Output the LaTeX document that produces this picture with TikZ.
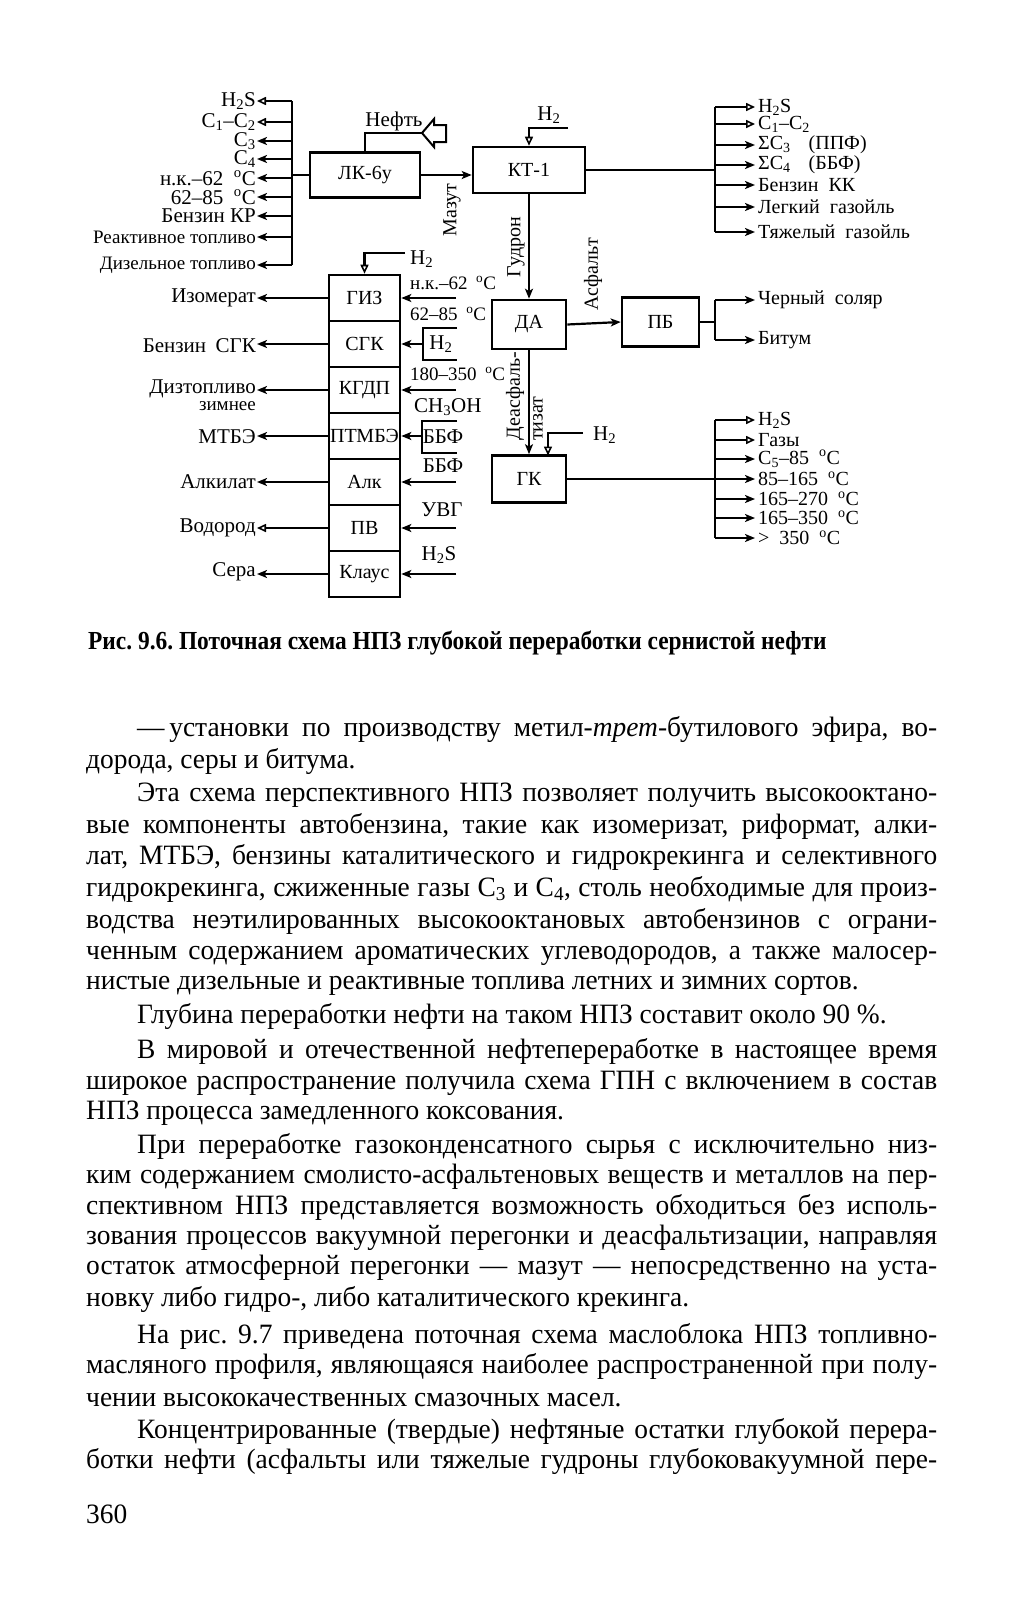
\documentclass[tikz,border=0pt]{standalone}
\usepackage{fontspec}
\setmainfont{Liberation Serif}
\newfontfamily\bodyfam{Liberation Serif}[FakeStretch=0.98]
\newfontfamily\capfam{Liberation Serif}[FakeStretch=0.9]
\usetikzlibrary{arrows.meta}
\frenchspacing
\newcommand\mydfont{\fontsize{21}{23}\selectfont}
\newcommand\myrfont{\fontsize{20}{22}\selectfont}
\newcommand\mybxfont{\fontsize{20}{22}\selectfont}
\newcommand\mydsfont{\fontsize{19}{21}\selectfont}
\newcommand\mybfont{\bodyfam\fontsize{28}{31}\selectfont}
\newcommand\mycfont{\capfam\fontsize{26}{30}\selectfont\bfseries}
\newcommand\dg{\textsuperscript{o}C}
\newcommand\bodyln[4]{\node[txt,anchor=mid west] (#1) at (#2) {\makebox[#3][s]{#4}};}
\newcommand\natln[3]{\node[txt,anchor=mid west] (#1) at (#2) {#3};}
\begin{document}
\begin{tikzpicture}[x=1pt,y=-1pt,
 ln/.style={line width=2.2pt},
 fa/.style={line width=2.2pt,-{Stealth[length=10pt,width=8pt,inset=2.5pt]}},
 oa/.style={line width=2.2pt,-{Triangle[open,length=9pt,width=8pt,line width=1.6pt]}},
 box/.style={draw,line width=2.6pt,inner sep=0pt,font=\mybxfont},
 lb/.style={inner sep=1pt,font=\mydfont},
 lbr/.style={inner xsep=3pt,inner ysep=0.5pt,font=\myrfont},
 lbt/.style={inner sep=1pt,font=\myrfont},
 lbs/.style={inner sep=1pt,font=\mydsfont},
 txt/.style={inner sep=0pt,font=\mybfont},
]
\fill[white] (0,0) rectangle (1017,1601);
\useasboundingbox (0,0) rectangle (1017,1601);

% ---------- left bus of LK-6u
\coordinate (lbus) at (292,0);
\node[box,minimum width=110pt,minimum height=45pt] (lk) at (365,175) {ЛК-6у};
\draw[ln] (292,101) -- (292,265);
\draw[ln] (lk.west) -- (lk.west -| lbus);
\node[lb,anchor=east] (p1) at (257,101) {H\textsubscript{2}S};
\node[lb,anchor=east] (p2) at (257,122) {C\textsubscript{1}–C\textsubscript{2}};
\node[lb,anchor=east] (p3) at (257,141) {C\textsubscript{3}};
\node[lb,anchor=east] (p4) at (257,159) {C\textsubscript{4}};
\node[lb,anchor=east] (p5) at (257,178) {н.к.–62\hspace{0.5em}\dg};
\node[lb,anchor=east] (p6) at (257,197) {62–85\hspace{0.5em}\dg};
\node[lb,anchor=east] (p7) at (257,216) {Бензин КР};
\node[lbs,anchor=east] (p8) at (257,237) {Реактивное топливо};
\node[lbs,anchor=east] (p9) at (257,265) {Дизельное топливо};
\draw[oa] (p1.east -| lbus) -- (p1.east);
\draw[oa] (p2.east -| lbus) -- (p2.east);
\foreach \p in {p3,p4,p5,p6,p7,p8,p9}
  \draw[fa] (\p.east -| lbus) -- (\p.east);

% ---------- oil feed
\coordinate (nf) at (422,133);
\draw[ln] (lk.north) |- (nf);
\draw[line width=2pt] (422,133) -- (434,119) -- (434,125) -- (446,125) -- (446,142) -- (434,142) -- (434,147) -- cycle;
\node[lb] (neft) at (394,121) {Нефть};

% ---------- KT-1
\node[box,minimum width=112pt,minimum height=46pt] (kt) at (529,170) {КТ-1};
\draw[fa] (lk.east) -- (lk.east -| kt.west);
\node[lbt,rotate=90] (mazut) at (452,210) {Мазут};
\coordinate (h2b) at (568,128);
\draw[oa] (h2b) -- (h2b -| kt.north) -- (kt.north);
\node[lb] (h2bl) at (549,115) {H\textsubscript{2}};
\coordinate (rbus) at (715,0);
\draw[ln] (kt.east) -- (kt.east -| rbus);
\draw[ln] (715,107) -- (715,232);
\node[lbr,anchor=west] (q1) at (755,107) {H\textsubscript{2}S};
\node[lbr,anchor=west] (q2) at (755,124) {C\textsubscript{1}–C\textsubscript{2}};
\node[lbr,anchor=west] (q3) at (755,145) {ΣC\textsubscript{3}\hspace{0.9em}(ППФ)};
\node[lbr,anchor=west] (q4) at (755,165) {ΣC\textsubscript{4}\hspace{0.9em}(ББФ)};
\node[lbr,anchor=west] (q5) at (755,185) {Бензин\hspace{0.5em}КК};
\node[lbr,anchor=west] (q6) at (755,207) {Легкий\hspace{0.5em}газойль};
\node[lbr,anchor=west] (q7) at (755,232) {Тяжелый\hspace{0.5em}газойль};
\draw[oa] (q1.west -| rbus) -- (q1.west);
\draw[oa] (q2.west -| rbus) -- (q2.west);
\foreach \q in {q3,q4,q5,q6,q7}
  \draw[fa] (\q.west -| rbus) -- (\q.west);

% ---------- DA, PB
\node[box,minimum width=74pt,minimum height=49pt] (da) at (529,324.5) {ДА};
\draw[fa] (kt.south) -- (da.north);
\node[lbt,rotate=90] (gudron) at (516,247) {Гудрон};
\node[box,minimum width=77pt,minimum height=49pt] (pb) at (660.5,322) {ПБ};
\draw[fa] (da.east) -- (pb.west);
\node[lbt,rotate=90] (asf) at (593,274) {Асфальт};
\draw[ln] (pb.east) -- (pb.east -| rbus);
\draw[ln] (715,300) -- (715,340);
\node[lbr,anchor=west] (s1) at (755,300) {Черный\hspace{0.5em}соляр};
\node[lbr,anchor=west] (s2) at (755,340) {Битум};
\draw[fa] (s1.west -| rbus) -- (s1.west);
\draw[fa] (s2.west -| rbus) -- (s2.west);

% ---------- GK
\node[box,minimum width=74pt,minimum height=47pt] (gk) at (529,479) {ГК};
\draw[fa] (da.south) -- (gk.north);
\node[lbt,rotate=90,anchor=west] (dea1) at (515,442) {Деасфаль-};
\node[lbt,rotate=90,anchor=west] (dea2) at (538,442) {тизат};
\coordinate (h2c) at (583,433);
\coordinate (gkin) at (548,455.5);
\draw[oa] (h2c) -- (h2c -| gkin) -- (gkin);
\node[lb,anchor=west] (h2cl) at (592,435) {H\textsubscript{2}};
\draw[ln] (gk.east) -- (gk.east -| rbus);
\draw[ln] (715,420) -- (715,538);
\node[lbr,anchor=west] (g1) at (755,420) {H\textsubscript{2}S};
\node[lbr,anchor=west] (g2) at (755,440) {Газы};
\node[lbr,anchor=west] (g3) at (755,459) {C\textsubscript{5}–85\hspace{0.5em}\dg};
\node[lbr,anchor=west] (g4) at (755,479) {85–165\hspace{0.5em}\dg};
\node[lbr,anchor=west] (g5) at (755,499) {165–270\hspace{0.5em}\dg};
\node[lbr,anchor=west] (g6) at (755,518) {165–350\hspace{0.5em}\dg};
\node[lbr,anchor=west] (g7) at (755,538) {>\hspace{0.5em}350\hspace{0.5em}\dg};
\draw[oa] (g1.west -| rbus) -- (g1.west);
\draw[oa] (g2.west -| rbus) -- (g2.west);
\foreach \g in {g3,g4,g5,g6,g7}
  \draw[fa] (\g.west -| rbus) -- (\g.west);

% ---------- process column
\node[box,minimum width=71pt,minimum height=46pt] (giz) at (364.5,298) {ГИЗ};
\node[box,minimum width=71pt,minimum height=46pt] (sgk) at (364.5,344) {СГК};
\node[box,minimum width=71pt,minimum height=46pt] (kgdp) at (364.5,390) {КГДП};
\node[box,minimum width=71pt,minimum height=46pt] (ptm) at (364.5,436) {ПТМБЭ};
\node[box,minimum width=71pt,minimum height=46pt] (alk) at (364.5,482) {Алк};
\node[box,minimum width=71pt,minimum height=46pt] (pv) at (364.5,528) {ПВ};
\node[box,minimum width=71pt,minimum height=46pt] (kl) at (364.5,574) {Клаус};
\coordinate (h2a) at (405,253);
\draw[oa] (h2a) -- (h2a -| giz.north) -- (giz.north);
\node[lb,anchor=west] (h2al) at (409,259) {H\textsubscript{2}};
% outputs
\node[lb,anchor=east] (o1) at (257,298) {Изомерат};
\node[lb,anchor=east] (o2) at (257,346) {Бензин\hspace{0.45em}СГК};
\node[lb,anchor=east] (o3) at (257,389) {Дизтопливо};
\node[lbs,anchor=east] (o3b) at (257,406) {зимнее};
\node[lb,anchor=east] (o4) at (257,437) {МТБЭ};
\node[lb,anchor=east] (o5) at (257,482) {Алкилат};
\node[lb,anchor=east] (o6) at (257,528) {Водород};
\node[lb,anchor=east] (o7) at (257,572) {Сера};
\draw[fa] (giz.west) -- (o1.east |- giz.west);
\draw[fa] (sgk.west) -- (o2.east |- sgk.west);
\draw[fa] (kgdp.west) -- (o3.east |- kgdp.west);
\draw[fa] (ptm.west) -- (o4.east |- ptm.west);
\draw[fa] (alk.west) -- (o5.east |- alk.west);
\draw[oa] (pv.west) -- (o6.east |- pv.west);
\draw[fa] (kl.west) -- (o7.east |- kl.west);
% inputs
\coordinate (inx) at (456,0);
\coordinate (brx) at (423,0);
\draw[fa] (giz.east -| inx) -- (giz.east);
\node[lbs,anchor=west] (i1) at (409,283) {н.к.–62\hspace{0.45em}\dg};
\draw[ln] (457,328) -- (423,328) -- (423,360) -- (457,360);
\draw[fa] (sgk.east -| brx) -- (sgk.east);
\node[lb] (i2h) at (441,344) {H\textsubscript{2}};
\node[lbs,anchor=west] (i2) at (409,314) {62–85\hspace{0.45em}\dg};
\draw[fa] (kgdp.east -| inx) -- (kgdp.east);
\node[lbs,anchor=west] (i3) at (409,374) {180–350\hspace{0.45em}\dg};
\node[lb,anchor=west] (i4) at (413,407) {CH\textsubscript{3}OH};
\draw[ln] (457,421) -- (422,421) -- (422,453) -- (457,453);
\draw[fa] (ptm.east -| brx) -- (ptm.east);
\node[lb] (i4b) at (443,437) {ББФ};
\draw[fa] (alk.east -| inx) -- (alk.east);
\node[lb] (i5) at (443,466) {ББФ};
\draw[fa] (pv.east -| inx) -- (pv.east);
\node[lb] (i6) at (442,510) {УВГ};
\draw[fa] (kl.east -| inx) -- (kl.east);
\node[lb] (i7) at (439,555) {H\textsubscript{2}S};

% ---------- caption
\node[inner sep=0pt,anchor=mid west,font=\mycfont] (cap) at (88,647) {Рис. 9.6. Поточная схема НПЗ глубокой переработки сернистой нефти};

% ---------- body text
\bodyln{l1}{137,734}{800pt}{—\,установки по производству метил-\textit{трет}-бутилового эфира, во-}
\natln{l2}{86,766}{дорода, серы и битума.}
\bodyln{l3}{137,799}{800pt}{Эта схема перспективного НПЗ позволяет получить высокооктано-}
\bodyln{l4}{86,831}{851pt}{вые компоненты автобензина, такие как изомеризат, риформат, алки-}
\bodyln{l5}{86,862}{851pt}{лат, МТБЭ, бензины каталитического и гидрокрекинга и селективного}
\bodyln{l6}{86,894}{851pt}{гидрокрекинга, сжиженные газы C\textsubscript{3} и C\textsubscript{4}, столь необходимые для произ-}
\bodyln{l7}{86,926}{851pt}{водства неэтилированных высокооктановых автобензинов с ограни-}
\bodyln{l8}{86,957}{851pt}{ченным содержанием ароматических углеводородов, а также малосер-}
\natln{l9}{86,987}{нистые дизельные и реактивные топлива летних и зимних сортов.}
\natln{l10}{137,1021}{Глубина переработки нефти на таком НПЗ составит около 90~\%.}
\bodyln{l11}{137,1056}{800pt}{В мировой и отечественной нефтепереработке в настоящее время}
\bodyln{l12}{86,1087}{851pt}{широкое распространение получила схема ГПН с включением в состав}
\natln{l13}{86,1117}{НПЗ процесса замедленного коксования.}
\bodyln{l14}{137,1151}{800pt}{При переработке газоконденсатного сырья с исключительно низ-}
\bodyln{l15}{86,1181}{851pt}{ким содержанием смолисто-асфальтеновых веществ и металлов на пер-}
\bodyln{l16}{86,1212}{851pt}{спективном НПЗ представляется возможность обходиться без исполь-}
\bodyln{l17}{86,1242}{851pt}{зования процессов вакуумной перегонки и деасфальтизации, направляя}
\bodyln{l18}{86,1272}{851pt}{остаток атмосферной перегонки — мазут — непосредственно на уста-}
\natln{l19}{86,1304}{новку либо гидро-, либо каталитического крекинга.}
\bodyln{l20}{137,1341}{800pt}{На рис.\ 9.7 приведена поточная схема маслоблока НПЗ топливно-}
\bodyln{l21}{86,1371}{851pt}{масляного профиля, являющаяся наиболее распространенной при полу-}
\natln{l22}{86,1404}{чении высококачественных смазочных масел.}
\bodyln{l23}{137,1436}{800pt}{Концентрированные (твердые) нефтяные остатки глубокой перера-}
\bodyln{l24}{86,1466}{851pt}{ботки нефти (асфальты или тяжелые гудроны глубоковакуумной пере-}
\natln{pg}{86,1521}{360}
\end{tikzpicture}
\end{document}
